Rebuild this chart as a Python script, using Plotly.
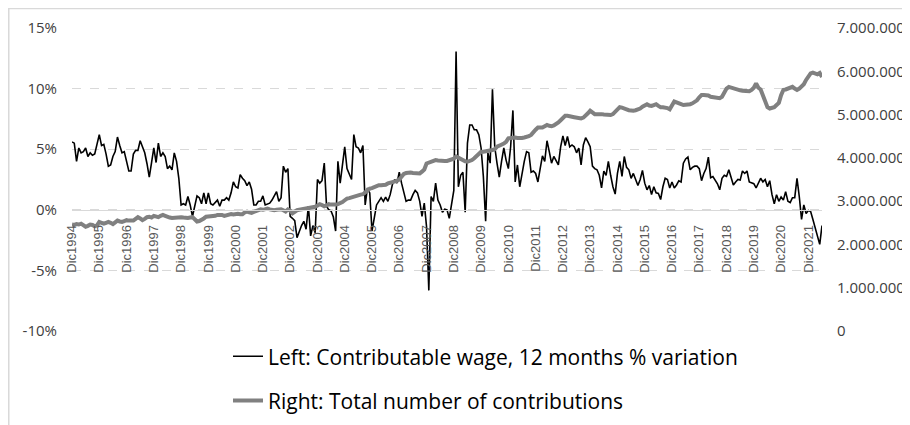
import plotly.graph_objects as go

# 12-month % variation of contributable wage, monthly from Dec 1994
wage_var = [
    5.6, 5.5, 4.0, 5.1, 4.7, 4.8, 5.1, 4.4, 4.7, 4.5, 4.6, 5.5,
    6.2, 5.3, 5.4, 4.6, 3.6, 3.7, 4.4, 4.8, 6.0, 5.3, 4.7, 4.8,
    4.0, 3.2, 3.2, 4.6, 4.9, 4.9, 5.7, 5.2, 4.7, 3.8, 2.7, 3.9,
    5.1, 3.9, 5.5, 4.4, 4.7, 4.4, 3.4, 3.6, 3.3, 4.7, 4.0, 2.6,
    0.4, 0.5, 0.4, 1.1, 0.4, -0.55, 0.2, 1.15, 1.0, 0.5, 1.4, 0.5,
    1.4, 0.5, 0.4, 0.6, 0.8, 0.3, 0.8, 0.8, 1.0, 0.8, 1.4, 2.3,
    1.9, 1.8, 2.9, 2.6, 2.4, 2.0, 2.3, 1.7, 0.4, 0.4, 0.7, 0.7,
    1.15, 0.4, 0.5, 0.55, 0.8, 1.1, 1.5, 0.7, 1.0, 3.6, 3.1, 3.4,
    -0.55, -0.7, -0.9, -2.3, -1.75, -1.3, -0.95, -1.6, 0.3, -2.15, -1.3, -1.9,
    2.5, 2.2, 2.4, 3.85, 0.3, 0.0, -0.1, -0.6, -1.75, 4.0, 2.2, 3.85,
    5.2, 3.4, 3.0, 2.5, 6.2, 5.2, 5.1, 4.7, 5.3, 0.4, 1.8, 1.4,
    -1.75, -0.55, 0.4, 0.7, 1.0, 0.7, 1.05, 0.7, 1.25, 2.1, 2.5, 2.2,
    3.1, 2.2, 1.4, 0.7, 0.8, 0.8, 1.25, 1.6, 1.4, 0.7, -0.55, 0.55,
    -1.4, -6.65, 1.1, 0.7, 2.2, 0.8, 0.4, -0.2, 0.05, 0.0, -0.7, 0.4,
    1.6, 13.05, 1.9, 2.85, 3.1, -0.2, 5.5, 7.0, 7.0, 6.6, 6.6, 6.2,
    5.1, 2.75, -0.95, 4.7, 3.85, 9.95, 5.2, 3.85, 2.7, 4.0, 5.1, 4.1,
    3.4, 5.2, 8.2, 2.3, 3.7, 1.9, 3.0, 4.0, 4.8, 4.7, 3.1, 3.2,
    3.0, 2.3, 3.4, 4.45, 4.0, 5.7, 4.8, 3.85, 4.4, 4.0, 3.7, 5.2,
    6.1, 5.3, 6.05, 5.2, 5.35, 5.2, 4.7, 5.1, 3.7, 5.35, 5.95, 5.6,
    5.2, 3.6, 3.4, 3.3, 2.85, 1.8, 3.2, 2.85, 4.0, 2.85, 1.9, 1.3,
    3.0, 4.0, 2.75, 4.4, 3.5, 3.3, 2.6, 3.0, 2.5, 2.0, 2.5, 3.25,
    2.2, 1.65, 2.0, 1.25, 1.9, 1.4, 1.35, 0.85, 1.9, 2.6, 2.5, 1.8,
    2.3, 1.8, 2.05, 2.4, 2.3, 3.85, 4.2, 4.35, 3.3, 3.5, 3.6, 3.6,
    3.4, 2.4, 3.0, 3.4, 4.35, 2.65, 2.75, 2.5, 2.15, 1.65, 2.6, 2.85,
    2.75, 3.3, 2.75, 2.05, 2.3, 2.5, 2.45, 3.2, 3.0, 3.2, 2.3, 2.2,
    2.15, 1.8, 2.2, 2.6, 2.3, 2.5, 1.9, 2.4, 1.25, 0.5, 1.25, 0.7,
    1.05, 0.8, 1.5, 0.7, 0.6, 1.0, 1.0, 2.6, 1.1, -0.8, 0.4, -0.3,
    -0.05, -0.15, -0.8, -1.5, -2.2, -2.85, -1.3,
]

# total number of contributions, thousands, monthly from Dec 1994
contrib_k = [
    2460, 2450, 2470, 2460, 2480, 2440, 2410, 2430, 2460, 2450, 2420, 2440,
    2520, 2500, 2480, 2500, 2520, 2500, 2470, 2510, 2550, 2530, 2520, 2540,
    2560, 2550, 2540, 2550, 2590, 2630, 2600, 2560, 2590, 2630, 2640, 2620,
    2660, 2650, 2630, 2660, 2680, 2660, 2630, 2620, 2610, 2620, 2610, 2630,
    2630, 2620, 2610, 2610, 2620, 2630, 2580, 2530, 2540, 2560, 2600, 2640,
    2640, 2650, 2660, 2660, 2680, 2690, 2680, 2660, 2670, 2700, 2700, 2690,
    2710, 2710, 2700, 2700, 2740, 2760, 2740, 2730, 2750, 2770, 2790, 2810,
    2800, 2820, 2830, 2810, 2790, 2790, 2800, 2810, 2810, 2790, 2760, 2810,
    2780, 2720, 2760, 2790, 2800, 2810, 2810, 2820, 2830, 2850, 2860, 2870,
    2900, 2930, 2910, 2880, 2900, 2930, 2920, 2910, 2920, 2930, 2950, 2980,
    3020, 3060, 3070, 3090, 3100, 3120, 3140, 3150, 3160, 3200, 3260, 3290,
    3300, 3330, 3350, 3370, 3370, 3370, 3380, 3410, 3420, 3440, 3450, 3470,
    3500, 3560, 3630, 3650, 3660, 3660, 3650, 3640, 3640, 3640, 3680, 3730,
    3870, 3890, 3910, 3930, 3950, 3940, 3930, 3930, 3930, 3930, 3940, 3950,
    3980, 4030, 4000, 3970, 3950, 3920, 3910, 3920, 3950, 3990, 4040, 4090,
    4140, 4140, 4150, 4140, 4160, 4180, 4200, 4260, 4280, 4300, 4330, 4370,
    4450, 4460, 4470, 4470, 4460, 4450, 4460, 4470, 4480, 4500, 4530, 4600,
    4650, 4700, 4700, 4700, 4730, 4760, 4740, 4730, 4750, 4780, 4820, 4870,
    4920, 4970, 4970, 4950, 4950, 4940, 4930, 4920, 4910, 4930, 4970, 5030,
    5090, 5050, 5010, 5010, 5020, 5010, 5000, 4990, 4990, 4990, 5010, 5060,
    5110, 5170, 5160, 5150, 5120, 5100, 5090, 5090, 5100, 5110, 5140, 5180,
    5220, 5240, 5210, 5200, 5220, 5240, 5200, 5170, 5170, 5170, 5150, 5120,
    5220, 5300, 5280, 5270, 5240, 5220, 5220, 5220, 5240, 5260, 5290, 5330,
    5400, 5450, 5450, 5450, 5440, 5410, 5400, 5380, 5370, 5380, 5410, 5530,
    5600, 5640, 5620, 5600, 5590, 5570, 5560, 5550, 5540, 5530, 5540, 5570,
    5620, 5720, 5620, 5580, 5450, 5280, 5170, 5140, 5150, 5170, 5220, 5270,
    5450, 5570, 5580, 5600, 5620, 5640, 5600, 5570, 5600, 5650, 5700, 5800,
    5870, 5950, 5970, 5960, 5930, 5960, 5870,
]

tick_years = list(range(1994, 2022))
tick_labels = ["Dic%d" % y for y in tick_years]
pct_ticks = [-10, -5, 0, 5, 10, 15]
pct_labels = ["-10%", "-5%", "0%", "5%", "10%", "15%"]

months = list(range(len(wage_var)))
contributions = [v * 1000 for v in contrib_k]

FONT = "Open Sans, Lato, sans-serif"

fig = go.Figure()
fig.add_trace(go.Scatter(
    x=months, y=wage_var, mode="lines", yaxis="y",
    name="Left: Contributable wage, 12 months % variation",
    legendgroup="a",
    line=dict(color="#000000", width=1.6)))
fig.add_trace(go.Scatter(
    x=months, y=contributions, mode="lines", yaxis="y2",
    name="Right: Total number of contributions",
    legendgroup="b",
    line=dict(color="#808080", width=4)))

# the page body adds an 8px offset, so margins are shifted to compensate
fig.update_layout(
    width=910, height=425,
    margin=dict(l=64, r=96, t=20, b=102),
    paper_bgcolor="white", plot_bgcolor="white",
    separators=",.",
    showlegend=True,
    legend=dict(x=0.208, y=-0.017, xanchor="left", yanchor="top",
                orientation="v", tracegroupgap=14,
                font=dict(family=FONT, size=21, color="#000000")),
    xaxis=dict(range=[0, len(months) - 1], anchor="free", position=0.4,
               automargin=False,
               tickvals=[12 * i for i in range(len(tick_years))],
               ticktext=tick_labels, tickangle=-90,
               tickfont=dict(family="Liberation Sans, Arial", size=13, color="#595959"),
               ticklabelstandoff=9,
               showgrid=False, zeroline=False,
               showline=True, linecolor="#d9d9d9", linewidth=1),
    yaxis=dict(range=[-10, 15], tickvals=pct_ticks, ticktext=pct_labels,
               automargin=False,
               tickfont=dict(family=FONT, size=15, color="#404040"),
               ticklabelstandoff=14,
               showgrid=True, gridcolor="#d9d9d9", griddash="dash",
               zeroline=False, showline=False),
    yaxis2=dict(range=[0, 7000000], dtick=1000000, tickformat=",d",
                overlaying="y", side="right", automargin=False,
                tickfont=dict(family=FONT, size=15, color="#404040"),
                ticklabelstandoff=14,
                showgrid=False, zeroline=False, showline=False),
    shapes=[dict(type="rect", xref="paper", yref="paper",
                 x0=-0.0843, x1=1.3, y0=-0.6, y1=1.064,
                 line=dict(color="#d9d9d9", width=1.5), layer="below")],
)

fig.write_html("out.html")
